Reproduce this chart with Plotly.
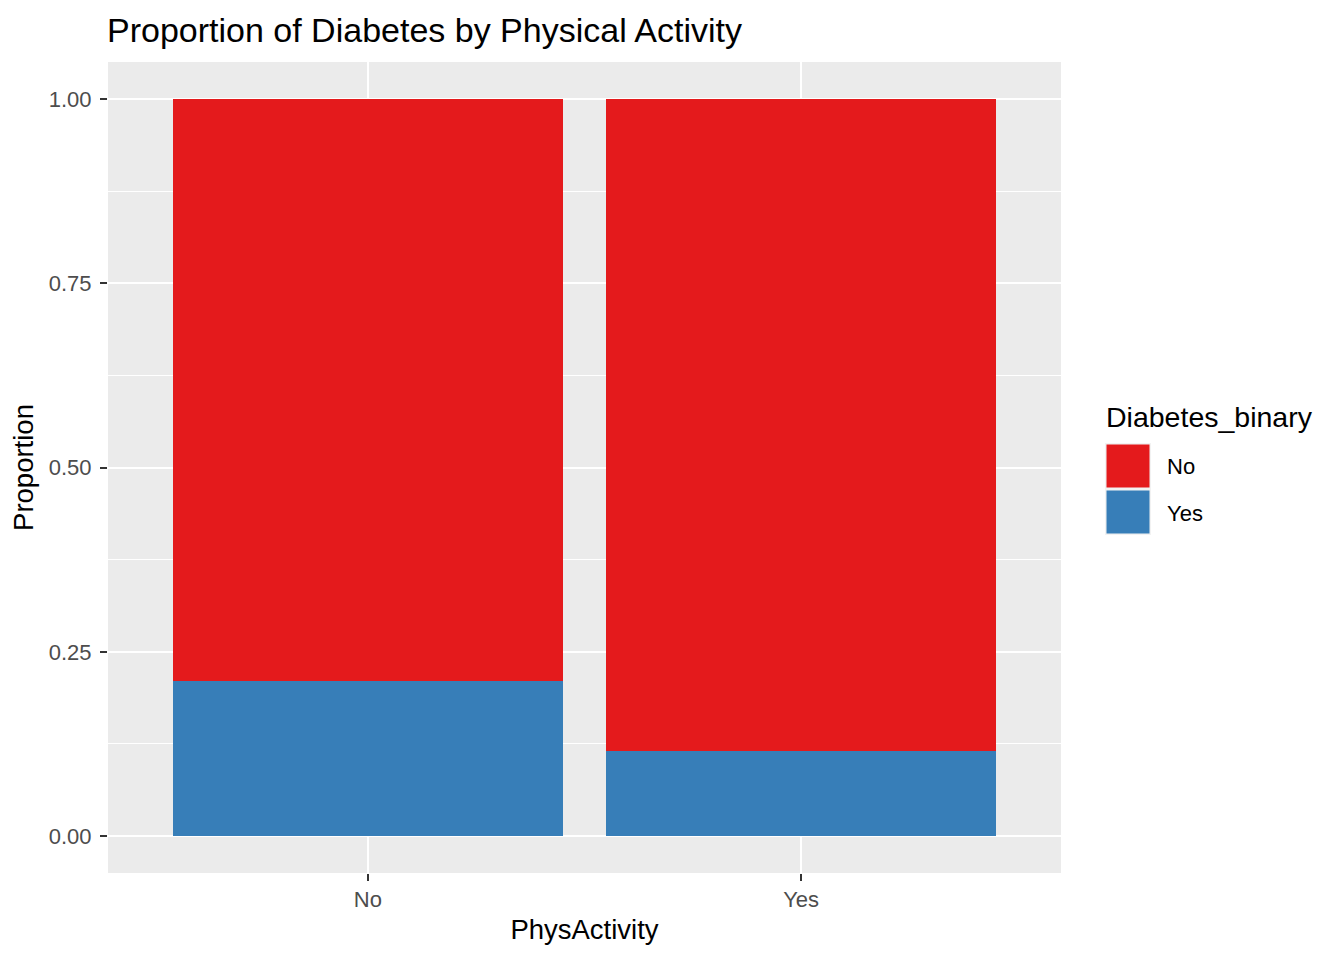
import plotly.graph_objects as go

# data
phys_activity = ["No", "Yes"]
diabetes_levels = ["Yes", "No"]  # stacking order, bottom first
prop_yes = [0.211, 0.116]
prop_no = [0.789, 0.884]
level_colors = {"No": "#E41A1C", "Yes": "#377EB8"}
y_ticks = [0.0, 0.25, 0.5, 0.75, 1.0]
y_tick_labels = ["0.00", "0.25", "0.50", "0.75", "1.00"]

W, H = 1344, 960
OFF = 8  # page body margin of the html page
# plot area wanted in page pixels: x 108..1061, y 62..873
PL, PR, PT, PB = 108, 1061, 62, 873
FONT = "Liberation Sans, Arial, sans-serif"


def px_x(p):
    return (p - PL) / (PR - PL)


def px_y(p):
    return (PB - p) / (PB - PT)


values = {"Yes": prop_yes, "No": prop_no}

fig = go.Figure()
for lev in diabetes_levels:
    fig.add_trace(go.Bar(
        x=phys_activity, y=values[lev], name=lev,
        marker=dict(color=level_colors[lev], line=dict(width=0)),
        showlegend=False,
    ))

# ggplot-like legend drawn by hand
shapes = []
annotations = []
key_top, key_h = 443, 46
for i, lev in enumerate(["No", "Yes"]):
    y0 = key_top + i * key_h
    shapes.append(dict(type="rect", xref="paper", yref="paper", layer="above",
                       x0=px_x(1105), x1=px_x(1151), y0=px_y(y0 + key_h), y1=px_y(y0),
                       fillcolor="#F2F2F2", line=dict(width=0)))
    shapes.append(dict(type="rect", xref="paper", yref="paper", layer="above",
                       x0=px_x(1106.5), x1=px_x(1149.5), y0=px_y(y0 + key_h - 1.5), y1=px_y(y0 + 1.5),
                       fillcolor=level_colors[lev], line=dict(width=0)))
    annotations.append(dict(text=lev, xref="paper", yref="paper", showarrow=False,
                            x=px_x(1165), y=px_y(y0 + key_h / 2 + 1), xanchor="left", yanchor="middle",
                            font=dict(family=FONT, size=22, color="black")))
annotations.append(dict(text="Diabetes_binary", xref="paper", yref="paper", showarrow=False,
                        x=px_x(1104), y=px_y(417), xanchor="left", yanchor="middle",
                        font=dict(family=FONT, size=28.5, color="black")))

fig.update_layout(
    width=W, height=H,
    margin=dict(l=PL - OFF, r=W - PR + OFF, t=PT - OFF, b=H - PB + OFF),
    barmode="stack", bargap=0.1,
    paper_bgcolor="white", plot_bgcolor="#EBEBEB",
    font=dict(family=FONT, color="black"),
    title=dict(text="Proportion of Diabetes by Physical Activity",
               x=(PL - OFF - 1) / W, xanchor="left", y=1 - (30 - OFF) / H, yanchor="middle",
               font=dict(family=FONT, size=34, color="black")),
    shapes=shapes, annotations=annotations,
    showlegend=False,
)
fig.update_xaxes(
    range=[-0.6, 1.6], showgrid=True, gridcolor="white", gridwidth=2.2,
    zeroline=False, showline=False,
    ticks="outside", ticklen=7, tickwidth=2, tickcolor="#333333",
    tickfont=dict(family=FONT, size=22, color="#4D4D4D"),
    title=dict(text="PhysActivity", font=dict(family=FONT, size=27.5, color="black"), standoff=8),
)
fig.update_yaxes(
    range=[-0.05, 1.05], tickvals=y_ticks, ticktext=y_tick_labels,
    showgrid=True, gridcolor="white", gridwidth=2.2,
    minor=dict(dtick=0.125, tick0=0.125, showgrid=True, gridcolor="white", gridwidth=1.1, ticks=""),
    zeroline=False, showline=False,
    ticks="outside", ticklen=7, tickwidth=2, tickcolor="#333333",
    ticklabelstandoff=4,
    tickfont=dict(family=FONT, size=22, color="#4D4D4D"),
    title=dict(text="Proportion", font=dict(family=FONT, size=27.5, color="black"), standoff=8),
)

fig.write_html("out.html")
